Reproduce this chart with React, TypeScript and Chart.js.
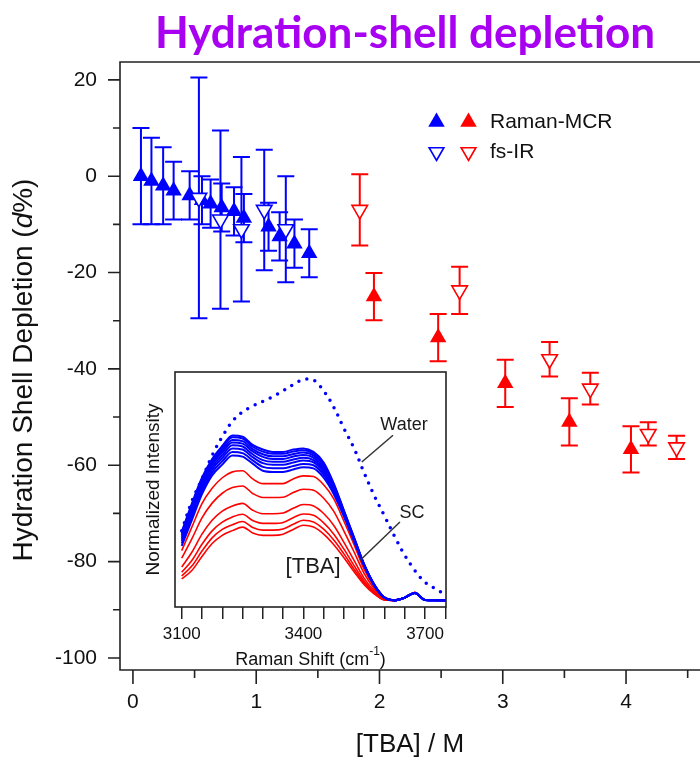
import React, { useEffect, useRef } from 'react';
import { Chart, registerables } from 'chart.js';

Chart.register(...registerables);

// ---------- main chart data ----------
const blueRamanConc = [0.065, 0.15, 0.245, 0.33, 0.46, 0.56, 0.63, 0.72, 0.82, 0.9, 1.1, 1.19, 1.31, 1.43];
const blueRamanDepl = [0, -1, -2, -3, -4, -5, -5.7, -6.5, -7.3, -8.7, -10.5, -12.5, -14, -16];
const blueRamanErr = [10, 9, 8, 6, 5, 5, 5, 5, 5, 5, 5, 5, 5, 5];

const blueIrConc = [0.535, 0.71, 0.88, 1.065, 1.24];
const blueIrDepl = [-4.5, -9, -11, -7, -11];
const blueIrErr = [25, 18.5, 15, 12.5, 11];

const redRamanConc = [1.955, 2.476, 3.02, 3.54, 4.04];
const redRamanDepl = [-25, -33.5, -43, -51, -56.7];
const redRamanErr = [4.9, 4.9, 4.9, 4.9, 4.8];

const redIrConc = [1.84, 2.65, 3.38, 3.71, 4.18, 4.41];
const redIrDepl = [-7, -23.7, -38, -44.1, -53.5, -56.3];
const redIrErr = [7.4, 4.9, 3.6, 3.3, 2.4, 2.4];

const legendLabels = ['Raman-MCR', 'fs-IR'];

// ---------- inset spectra data ----------
const ramanShift = [3100, 3125, 3150, 3175, 3200, 3225, 3250, 3275, 3300, 3325, 3350, 3375, 3400, 3425, 3450, 3475, 3500, 3525, 3550, 3575, 3600, 3625, 3650, 3675, 3700, 3725, 3750];
const waterSpectrum = [32.4, 45, 54.5, 64.5, 72.5, 79, 83, 85.5, 87.5, 89.5, 92, 94.6, 96.8, 96.6, 92, 85, 76, 67.5, 57, 47.3, 38.7, 30, 22, 15.5, 10.5, 7.8, 5.3];
const blueSpectra = [
  [32, 44, 55, 63, 68.5, 73, 72.5, 69, 67, 66, 66, 67, 67.5, 66, 61.5, 52.5, 41, 29.5, 18, 9.5, 4, 2.9, 4, 6, 3, 2.9, 2.8],
  [31.4, 43.3, 54.3, 62.3, 67.8, 72.2, 71.7, 68.2, 66.1, 65.2, 65.2, 66.2, 66.7, 65.3, 60.9, 52.1, 40.8, 29.4, 18, 9.5, 4, 2.9, 4, 6, 3, 2.9, 2.8],
  [30.7, 42.5, 53.5, 61.5, 66.8, 71.1, 70.6, 67.2, 65, 64.1, 64.1, 65.1, 65.7, 64.5, 60.1, 51.5, 40.5, 29.2, 17.9, 9.4, 4, 2.9, 4, 6, 3, 2.9, 2.8],
  [29.9, 41.6, 52.6, 60.6, 65.8, 70, 69.5, 66.2, 63.9, 63, 63, 64, 64.7, 63.6, 59.2, 50.9, 40.1, 29, 17.8, 9.3, 4, 2.9, 4, 6, 3, 2.9, 2.8],
  [29, 40.5, 51.5, 59.5, 64.6, 68.8, 68.3, 65, 62.5, 61.8, 61.8, 62.8, 63.5, 62.5, 58.3, 50.3, 39.8, 28.8, 17.8, 9.3, 4, 2.9, 4, 6, 3, 2.9, 2.8],
  [28.1, 39.5, 50.5, 58.5, 63.4, 67.5, 67, 63.8, 61.2, 60.5, 60.5, 61.5, 62.3, 61.5, 57.3, 49.6, 39.4, 28.5, 17.7, 9.2, 4, 2.9, 4, 6, 3, 2.9, 2.8],
  [27.1, 38.3, 49.3, 57.3, 62, 66, 65.5, 62.4, 59.6, 59, 59, 60, 60.9, 60.3, 56.2, 48.8, 39, 28.3, 17.6, 9.1, 4, 2.9, 4, 6, 3, 2.9, 2.8],
  [26, 37, 48, 56, 60.6, 64.5, 64, 61, 58, 57.5, 57.5, 58.5, 59.5, 59, 55, 48, 38.5, 28, 17.5, 9, 4, 2.9, 4, 6, 3, 2.9, 2.8],
];
const redSpectra = [
  [24, 34, 44, 50.5, 55, 57.5, 58, 54.5, 52.5, 52.5, 52.5, 54.5, 55.8, 55.5, 52, 46, 36.5, 26.5, 16, 8.5, 3.5, 2.8, 4, 6.2, 3, 2.9, 2.8],
  [20.8, 29, 37.9, 44.2, 48.4, 50.8, 51.5, 48.3, 46.6, 46.6, 46.7, 48.7, 50.1, 49.7, 46.3, 40.7, 32.3, 23.4, 14.2, 7.7, 3.4, 2.8, 4, 6.2, 3, 2.9, 2.8],
  [17, 23.3, 31, 36.9, 40.8, 43, 44.1, 41.2, 39.7, 39.7, 40, 42, 43.6, 43, 39.8, 34.7, 27.5, 19.8, 12.2, 6.8, 3.2, 2.8, 4, 6.2, 3, 2.9, 2.8],
  [14.8, 19.8, 26.7, 32.4, 36.1, 38.3, 39.5, 36.8, 35.6, 35.6, 36, 38, 39.6, 39, 35.8, 31, 24.6, 17.6, 11, 6.2, 3.1, 2.8, 4, 6.2, 3, 2.9, 2.8],
  [13.2, 17.4, 23.8, 29.4, 33, 35, 36.4, 33.8, 32.7, 32.7, 33.2, 35.2, 36.9, 36.2, 33.1, 28.5, 22.6, 16.1, 10.2, 5.8, 3, 2.8, 4, 6.2, 3, 2.9, 2.8],
  [12, 15.5, 21.5, 27, 30.5, 32.5, 34, 31.5, 30.5, 30.5, 31, 33, 34.8, 34, 31, 26.5, 21, 15, 9.5, 5.5, 3, 2.8, 4, 6.2, 3, 2.9, 2.8],
];
const insetTickLabels = [3100, 3400, 3700];
// annotation anchors in data units [shift, intensity]
const waterLabelAt = [3648, 77.3];
const waterLine = [[3621, 73.1], [3544, 61.7]];
const scLabelAt = [3668, 39.9];
const scLine = [[3638, 36.2], [3540, 19.9]];
const tbaLabelAt = [3424, 16.9];

const BLUE = '#0000ff';
const RED = '#ff0000';
const AXIS = '#222';
const SANS = '"Liberation Sans", Arial, sans-serif';

function triangle(ctx: CanvasRenderingContext2D, x: number, y: number, r: number, down: boolean, fill: string | null, stroke: string | null, lw = 1.6) {
  const s = down ? -1 : 1;
  ctx.beginPath();
  ctx.moveTo(x, y - s * r);
  ctx.lineTo(x + r * 0.866, y + s * r * 0.5);
  ctx.lineTo(x - r * 0.866, y + s * r * 0.5);
  ctx.closePath();
  if (fill) { ctx.fillStyle = fill; ctx.fill(); }
  if (stroke) { ctx.strokeStyle = stroke; ctx.lineWidth = lw; ctx.stroke(); }
}

const mainDecor = {
  id: 'mainDecor',
  beforeDatasetsDraw(chart: any) {
    const ctx = chart.ctx;
    const ys = chart.scales.y;
    ctx.save();
    chart.data.datasets.forEach((ds: any, di: number) => {
      const meta = chart.getDatasetMeta(di);
      ctx.strokeStyle = ds.borderColor;
      ctx.lineWidth = 2;
      meta.data.forEach((pt: any, i: number) => {
        const v = ds.data[i].y;
        const e = ds.errorBars[i];
        const top = ys.getPixelForValue(v + e);
        const bot = ys.getPixelForValue(v - e);
        const x = pt.x;
        ctx.beginPath();
        ctx.moveTo(x, top); ctx.lineTo(x, bot);
        ctx.moveTo(x - 8.5, top); ctx.lineTo(x + 8.5, top);
        ctx.moveTo(x - 8.5, bot); ctx.lineTo(x + 8.5, bot);
        ctx.stroke();
      });
    });
    ctx.restore();
  },
  afterDraw(chart: any) {
    const ctx = chart.ctx;
    const { left, right, top, bottom } = chart.chartArea;
    const xs = chart.scales.x;
    const ys = chart.scales.y;
    ctx.save();
    // frame
    ctx.strokeStyle = AXIS;
    ctx.lineWidth = 1.6;
    ctx.beginPath();
    ctx.moveTo(right, top); ctx.lineTo(left, top); ctx.lineTo(left, bottom); ctx.lineTo(right, bottom);
    ctx.stroke();
    // ticks
    ctx.beginPath();
    ys.ticks.forEach((t: any) => {
      const py = ys.getPixelForValue(t.value);
      const len = Math.abs(t.value % 20) < 1e-6 ? 12 : 7;
      ctx.moveTo(left - len, py); ctx.lineTo(left, py);
    });
    xs.ticks.forEach((t: any) => {
      const px = xs.getPixelForValue(t.value);
      const len = Number.isInteger(t.value) ? 14 : 8;
      ctx.moveTo(px, bottom); ctx.lineTo(px, bottom + len);
    });
    ctx.stroke();

    // title
    ctx.fillStyle = '#a800f0';
    ctx.font = 'bold 44px Lato, "Open Sans", sans-serif';
    ctx.textAlign = 'center';
    ctx.textBaseline = 'alphabetic';
    ctx.fillText('Hydration-shell depletion', 405, 48);

    // x title
    ctx.fillStyle = '#111';
    ctx.font = `26px ${SANS}`;
    ctx.textBaseline = 'middle';
    ctx.fillText('[TBA] / M', (left + right) / 2, 745);

    // y title with italic d
    ctx.save();
    ctx.translate(24, 370);
    ctx.rotate(-Math.PI / 2);
    const parts: [string, string][] = [
      ['Hydration Shell Depletion (', `28px ${SANS}`],
      ['d', `italic 28px ${SANS}`],
      ['%)', `28px ${SANS}`],
    ];
    let total = 0;
    parts.forEach(([s, f]) => { ctx.font = f; total += ctx.measureText(s).width; });
    let cx = -total / 2;
    ctx.textAlign = 'left';
    parts.forEach(([s, f]) => { ctx.font = f; ctx.fillText(s, cx, 0); cx += ctx.measureText(s).width; });
    ctx.restore();

    // legend
    triangle(ctx, 436.5, 122, 9.5, false, BLUE, null);
    triangle(ctx, 468.5, 122, 9.5, false, RED, null);
    triangle(ctx, 436.5, 152, 8.5, true, '#fff', BLUE, 1.6);
    triangle(ctx, 468.5, 152, 8.5, true, '#fff', RED, 1.6);
    ctx.fillStyle = '#111';
    ctx.font = `21px ${SANS}`;
    ctx.textAlign = 'left';
    ctx.textBaseline = 'middle';
    ctx.fillText(legendLabels[0], 490, 122);
    ctx.fillText(legendLabels[1], 490, 152);
    ctx.restore();
  },
};

const insetDecor = {
  id: 'insetDecor',
  afterDraw(chart: any) {
    const ctx = chart.ctx;
    const { left, right, top, bottom } = chart.chartArea;
    const xs = chart.scales.x;
    const ys = chart.scales.y;
    const P = (p: number[]) => [xs.getPixelForValue(p[0]), ys.getPixelForValue(p[1])];
    ctx.save();
    ctx.strokeStyle = AXIS;
    ctx.lineWidth = 1.6;
    ctx.strokeRect(left, top, right - left, bottom - top);

    // annotations
    ctx.strokeStyle = '#333';
    ctx.lineWidth = 1.5;
    [waterLine, scLine].forEach((ln) => {
      const a = P(ln[0]); const b = P(ln[1]);
      ctx.beginPath(); ctx.moveTo(a[0], a[1]); ctx.lineTo(b[0], b[1]); ctx.stroke();
    });
    ctx.fillStyle = '#1a1a1a';
    ctx.textAlign = 'center';
    ctx.textBaseline = 'middle';
    ctx.font = `18px ${SANS}`;
    let p = P(waterLabelAt); ctx.fillText('Water', p[0], p[1]);
    p = P(scLabelAt); ctx.fillText('SC', p[0], p[1]);
    ctx.font = `22px ${SANS}`;
    p = P(tbaLabelAt); ctx.fillText('[TBA]', p[0], p[1]);

    // y title
    ctx.save();
    ctx.translate(14, (top + bottom) / 2);
    ctx.rotate(-Math.PI / 2);
    ctx.font = `19px ${SANS}`;
    ctx.fillStyle = '#111';
    ctx.fillText('Normalized Intensity', 0, 0);
    ctx.restore();

    // x title with superscript
    const main = 'Raman Shift (cm';
    const sup = '-1';
    const tail = ')';
    ctx.font = `18px ${SANS}`;
    const w1 = ctx.measureText(main).width;
    const w3 = ctx.measureText(tail).width;
    ctx.font = `12px ${SANS}`;
    const w2 = ctx.measureText(sup).width;
    const x0 = (left + right) / 2 - (w1 + w2 + w3) / 2;
    const yb = 298;
    ctx.textAlign = 'left';
    ctx.fillStyle = '#111';
    ctx.font = `18px ${SANS}`;
    ctx.fillText(main, x0, yb);
    ctx.font = `12px ${SANS}`;
    ctx.fillText(sup, x0 + w1, yb - 8);
    ctx.font = `18px ${SANS}`;
    ctx.fillText(tail, x0 + w1 + w2, yb);
    ctx.restore();
  },
};

export default function App() {
  const mainRef = useRef<HTMLCanvasElement>(null);
  const insetRef = useRef<HTMLCanvasElement>(null);

  useEffect(() => {
    const pts = (xs: number[], ys: number[]) => xs.map((x, i) => ({ x, y: ys[i] }));
    const main = new Chart(mainRef.current!, {
      type: 'scatter',
      data: {
        datasets: [
          { label: 'fs-IR (blue)', data: pts(blueIrConc, blueIrDepl), errorBars: blueIrErr, pointStyle: 'triangle', rotation: 180, pointRadius: 9, backgroundColor: '#fff', borderColor: BLUE, borderWidth: 1.6 } as any,
          { label: 'fs-IR (red)', data: pts(redIrConc, redIrDepl), errorBars: redIrErr, pointStyle: 'triangle', rotation: 180, pointRadius: 9, backgroundColor: '#fff', borderColor: RED, borderWidth: 1.6 } as any,
          { label: 'Raman-MCR (blue)', data: pts(blueRamanConc, blueRamanDepl), errorBars: blueRamanErr, pointStyle: 'triangle', pointRadius: 9.5, backgroundColor: BLUE, borderColor: BLUE, borderWidth: 0 } as any,
          { label: 'Raman-MCR (red)', data: pts(redRamanConc, redRamanDepl), errorBars: redRamanErr, pointStyle: 'triangle', pointRadius: 9.5, backgroundColor: RED, borderColor: RED, borderWidth: 0 } as any,
        ],
      },
      options: {
        animation: false,
        responsive: false,
        events: [],
        layout: { autoPadding: false, padding: { top: 62, left: 0, right: 0, bottom: 0 } },
        plugins: { legend: { display: false }, tooltip: { enabled: false }, title: { display: false } },
        scales: {
          x: {
            type: 'linear', min: -0.105, max: 4.6,
            ticks: { stepSize: 0.5, includeBounds: false, autoSkip: false, maxRotation: 0, color: '#111', padding: 6, font: { family: SANS, size: 21 }, callback: (v: any) => (Number.isInteger(v) ? String(v) : '') },
            grid: { drawOnChartArea: false, tickLength: 14, color: 'transparent' },
            border: { display: false },
            afterFit: (s: any) => { s.height = 92; s.paddingLeft = 0; s.paddingRight = 0; },
          },
          y: {
            type: 'linear', min: -102.5, max: 23.7,
            ticks: { stepSize: 10, includeBounds: false, autoSkip: false, color: '#111', padding: 11, font: { family: SANS, size: 21 }, callback: (v: any) => (Math.abs(v % 20) < 1e-6 ? String(v) : '') },
            grid: { drawOnChartArea: false, tickLength: 12, color: 'transparent' },
            border: { display: false },
            afterFit: (s: any) => { s.width = 120; s.paddingTop = 0; s.paddingBottom = 0; },
          },
        },
      } as any,
      plugins: [mainDecor],
    });

    const spec = (ys: number[]) => ramanShift.map((x, i) => ({ x, y: ys[i] }));
    const insetSets: any[] = [
      { label: 'Water', data: spec(waterSpectrum), borderColor: BLUE, borderWidth: 3.5, borderDash: [0, 8.3], borderCapStyle: 'round', pointRadius: 0, tension: 0.35 },
      ...blueSpectra.map((s, i) => ({ label: `blue ${i + 1}`, data: spec(s), borderColor: BLUE, borderWidth: 2, pointRadius: 0, cubicInterpolationMode: 'monotone' })),
      ...redSpectra.map((s, i) => ({ label: `red ${i + 1}`, data: spec(s), borderColor: RED, borderWidth: 1.6, pointRadius: 0, cubicInterpolationMode: 'monotone' })),
    ];
    const inset = new Chart(insetRef.current!, {
      type: 'line',
      data: { datasets: insetSets },
      options: {
        animation: false,
        responsive: false,
        events: [],
        layout: { autoPadding: false, padding: { top: 10, left: 35, right: 14, bottom: 0 } },
        plugins: { legend: { display: false }, tooltip: { enabled: false } },
        scales: {
          x: {
            type: 'linear', min: 3083.5, max: 3751.6,
            ticks: { stepSize: 50, includeBounds: false, autoSkip: false, maxRotation: 0, color: '#111', padding: 5, font: { family: SANS, size: 17 }, callback: (v: any) => (insetTickLabels.includes(v) ? String(v) : '') },
            grid: { drawOnChartArea: false, tickLength: 12, color: AXIS, lineWidth: 1.5 },
            border: { display: false },
            afterFit: (s: any) => { s.height = 65; s.paddingLeft = 0; s.paddingRight = 0; },
          },
          y: { type: 'linear', display: false, min: 0, max: 100 },
        },
      } as any,
      plugins: [insetDecor],
    });

    return () => { main.destroy(); inset.destroy(); };
  }, []);

  return (
    <div style={{ position: 'fixed', left: 0, top: 0, width: 700, height: 762, background: '#fff', overflow: 'hidden' }}>
      <canvas ref={mainRef} width={700} height={762} style={{ position: 'absolute', left: 0, top: 0, width: 700, height: 762 }} />
      <canvas ref={insetRef} width={320} height={310} style={{ position: 'absolute', left: 140, top: 362, width: 320, height: 310 }} />
    </div>
  );
}
